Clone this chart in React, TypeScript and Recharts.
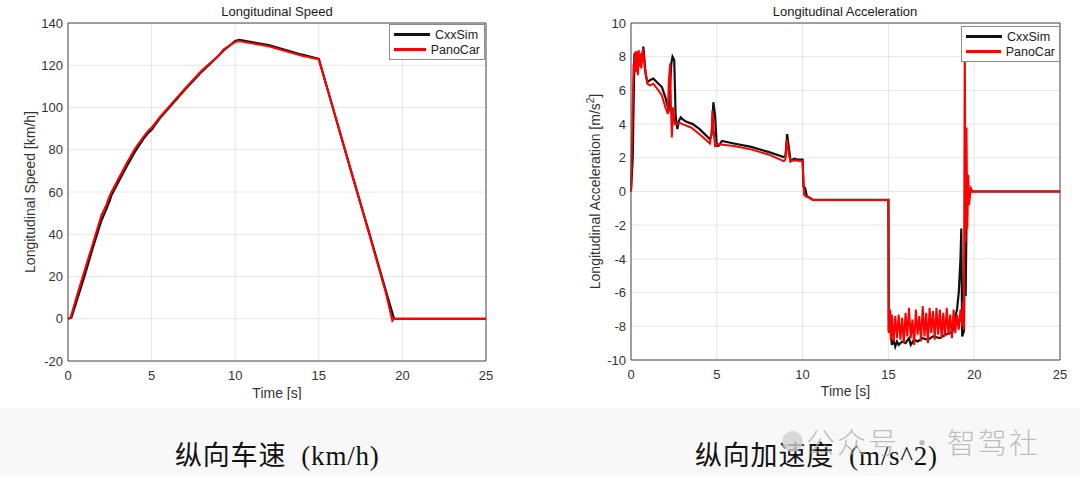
import React from 'react'
import {
  LineChart, Line, XAxis, YAxis, CartesianGrid,
  ReferenceLine, Legend,
} from 'recharts'

// time axis shared by both plots
const TIME_TICKS = [0, 5, 10, 15, 20, 25]
const SPEED_TICKS = [-20, 0, 20, 40, 60, 80, 100, 120, 140]
const ACC_TICKS = [-10, -8, -6, -4, -2, 0, 2, 4, 6, 8, 10]

// Longitudinal speed [km/h]
const SPEED_T_CXX = [0, 0.2, 0.5, 1.0, 1.5, 2.0, 2.3, 2.5, 2.6, 3.0, 3.5, 4.0, 4.5, 4.8, 5.0, 5.5, 6.0, 7.0, 8.0, 9.0, 9.3, 10.0, 10.25, 12.0, 14.0, 15.0, 16.0, 17.0, 18.0, 19.0, 19.5, 20.0, 25.0]
const SPEED_CXX = [0, 0.5, 8, 20.5, 34, 46.5, 52, 56, 58.5, 64.5, 72, 79, 85, 88, 89.5, 95, 99.5, 108.5, 117, 124.5, 127, 131.5, 132, 129.5, 125, 123, 95.5, 68, 41, 13.5, 0, 0, 0]
const SPEED_T_PANO = [0, 0.15, 0.5, 1.0, 1.5, 2.0, 2.3, 2.45, 2.6, 3.0, 3.5, 4.0, 4.5, 4.8, 5.0, 5.5, 6.0, 7.0, 8.0, 9.0, 9.3, 10.0, 10.2, 12.0, 14.0, 15.0, 16.0, 17.0, 18.0, 19.0, 19.4, 19.5, 20.0, 25.0]
const SPEED_PANO = [0, 0.5, 10, 23, 36, 49, 54, 57.5, 60, 66, 73.5, 80.5, 86, 89, 90.5, 95.5, 100, 109, 117.5, 124.5, 127.5, 131, 131.5, 129, 124.5, 122.8, 95.5, 68, 40.5, 12.5, -1, 0, 0, 0]

// Longitudinal acceleration [m/s^2]
const ACC_T_CXX = [
  0, 0.1, 0.2, 0.25, 0.3, 0.4, 0.5, 0.6, 0.72, 0.85, 0.95, 1.1, 1.3, 1.5, 1.8, 2.0, 2.15, 2.2, 2.35, 2.42, 2.52, 2.6, 2.7, 2.8, 2.9,
  3.0, 3.2, 3.6, 4.0, 4.6, 4.7, 4.8, 4.9, 5.0, 5.1, 5.3, 6.0, 7.0, 8.0, 8.9, 9.0, 9.1, 9.2, 9.3, 9.5, 9.7, 10.0, 10.05, 10.15,
  10.25, 10.4, 10.6, 15.0, 15.02, 15.1, 15.2, 15.3, 15.4, 15.5, 15.6, 15.8, 16.0, 16.2, 16.3, 16.5, 16.7, 17.0, 17.3, 17.6,
  18.0, 18.3, 18.6, 18.8, 18.9, 19.0, 19.1, 19.2, 19.25, 19.3, 19.4, 19.45, 19.5, 19.55, 19.6, 19.65, 19.7, 19.8, 25.0,
]
const ACC_CXX = [
  0, 2, 8.2, 7.8, 8.3, 7.4, 8.1, 7.6, 8.6, 7.0, 6.5, 6.6, 6.7, 6.5, 6.2, 5.6, 5.0, 4.9, 7.6, 8.0, 7.8, 4.5, 3.7, 4.2, 4.4,
  4.3, 4.15, 4.0, 3.7, 3.1, 3.4, 5.3, 4.5, 2.7, 2.7, 3.0, 2.85, 2.65, 2.35, 2.05, 2.1, 3.4, 2.6, 1.8, 1.95, 1.9, 1.9, 0.3, 0.2,
  -0.3, -0.35, -0.5, -0.5, -8.3, -8.0, -9.1, -8.8, -9.2, -8.9, -9.1, -8.9, -9.0, -8.7, -9.1, -8.8, -8.9, -8.7, -8.8, -8.6,
  -8.7, -8.5, -8.4, -8.2, -7.4, -7.0, -6.0, -4.0, -2.2, -8.6, -8.3, -4.0, -6.2, -2.0, 0.8, -0.2, 0.1, 0, 0,
]
const ACC_T_PANO = [
  0, 0.15, 0.2, 0.25, 0.3, 0.35, 0.4, 0.45, 0.5, 0.55, 0.6, 0.7, 0.8, 0.95, 1.1, 1.3, 1.6, 1.8, 2.0, 2.15, 2.2, 2.28, 2.33, 2.38,
  2.45, 2.55, 2.7, 2.8, 3.0, 3.5, 4.0, 4.6, 4.7, 4.75, 4.85, 4.9, 5.1, 6.0, 7.0, 8.0, 8.9, 9.0, 9.08, 9.2, 9.3, 9.5, 10.0, 10.08,
  10.2, 10.35, 10.6, 15.0, 15.02, 15.1, 15.15, 15.2, 15.3, 15.4, 15.5, 15.6, 15.7, 15.8, 15.9, 16.0, 16.1, 16.2, 16.3, 16.4,
  16.5, 16.6, 16.7, 16.8, 16.9, 17.0, 17.1, 17.2, 17.3, 17.4, 17.5, 17.6, 17.7, 17.8, 17.9, 18.0, 18.1, 18.2, 18.3, 18.4, 18.5,
  18.6, 18.7, 18.8, 18.9, 19.0, 19.1, 19.2, 19.3, 19.35, 19.4, 19.45, 19.5, 19.55, 19.6, 19.65, 19.7, 19.8, 19.9, 25.0,
]
const ACC_PANO = [
  0, 7.6, 7.0, 8.3, 7.1, 8.3, 6.9, 8.4, 7.4, 8.2, 7.3, 8.5, 7.4, 6.4, 6.3, 6.4, 6.0, 5.7, 5.0, 4.6, 6.5, 7.6, 5.0, 3.2,
  5.0, 4.0, 4.0, 4.1, 4.0, 3.8, 3.4, 2.85, 3.5, 4.8, 3.2, 2.7, 2.8, 2.7, 2.5, 2.2, 1.8, 1.9, 3.1, 2.2, 1.8, 1.85, 1.8, -0.2,
  -0.3, -0.35, -0.5, -0.5, -8.4, -7.0, -8.8, -7.3, -8.9, -7.4, -8.7, -7.3, -8.8, -7.5, -9.0, -7.2, -8.6, -6.9, -8.7, -7.6,
  -9.1, -7.0, -8.5, -7.4, -8.9, -6.8, -8.6, -7.2, -9.0, -6.9, -8.4, -7.1, -8.8, -6.9, -8.5, -7.0, -8.7, -7.2, -8.6, -6.9, -8.5,
  -7.3, -8.7, -7.0, -8.4, -7.3, -8.2, -7.0, -8.0, -6.5, -8.2, 9.5, -3.0, 3.8, -2.2, 1.0, -0.8, 0.2, 0, 0,
]

const toPoints = (ts: number[], vs: number[]) => ts.map((t, i) => ({ t, v: vs[i] }))

const FONT = 'Arial, "Liberation Sans", Helvetica, sans-serif'
const AXIS_COLOR = '#4a4a4a'
const TEXT_COLOR = '#333333'
const GRID_COLOR = '#e6e6e6'
const LABEL_SIZE = 14

function LegendBox({ payload }: any) {
  return (
    <div style={{
      border: '1px solid #8c8c8c', background: '#fff', padding: '2px 4px',
      fontFamily: FONT, fontSize: 12.5, color: '#222', boxSizing: 'border-box',
    }}>
      {(payload || []).map((p: any) => (
        <div key={p.value} style={{ display: 'flex', alignItems: 'center', height: 15 }}>
          <div style={{ width: 36, height: 2.5, background: p.color, marginRight: 5 }} />
          <span>{p.value}</span>
        </div>
      ))}
    </div>
  )
}

function yTitle(cx: number, content: React.ReactNode) {
  return ({ viewBox }: any) => {
    const cy = viewBox.y + viewBox.height / 2
    return (
      <text x={cx} y={cy} transform={`rotate(-90 ${cx} ${cy})`} textAnchor="middle"
        dominantBaseline="central" fontSize={LABEL_SIZE} fill={TEXT_COLOR} fontFamily={FONT}>
        {content}
      </text>
    )
  }
}

const tickStyle = { fontSize: 13, fill: TEXT_COLOR, fontFamily: FONT }

function SpeedChart() {
  return (
    <LineChart width={540} height={400} margin={{ top: 23, right: 54, bottom: 0, left: 0 }}
      style={{ fontFamily: FONT }}>
      <CartesianGrid stroke={GRID_COLOR} />
      <XAxis dataKey="t" type="number" domain={[0, 25]} ticks={TIME_TICKS} height={39}
        tick={tickStyle} tickLine={false} tickSize={6} tickMargin={4} stroke={AXIS_COLOR}
        label={{ value: 'Time [s]', position: 'insideBottom', offset: 2, fontSize: LABEL_SIZE, fill: TEXT_COLOR }} />
      <YAxis type="number" domain={[-20, 140]} ticks={SPEED_TICKS} width={68}
        tick={tickStyle} tickLine={false} tickSize={5} tickMargin={0} stroke={AXIS_COLOR}
        label={{ content: yTitle(30, 'Longitudinal Speed [km/h]') }} />
      <ReferenceLine y={140} stroke={AXIS_COLOR} />
      <ReferenceLine x={25} stroke={AXIS_COLOR} />
      <Line data={toPoints(SPEED_T_CXX, SPEED_CXX)} dataKey="v" name="CxxSim" type="linear"
        stroke="#111111" strokeWidth={2.2} dot={false} isAnimationActive={false} />
      <Line data={toPoints(SPEED_T_PANO, SPEED_PANO)} dataKey="v" name="PanoCar" type="linear"
        stroke="#ff0000" strokeWidth={2} dot={false} isAnimationActive={false} />
      <Legend content={LegendBox} layout="horizontal" verticalAlign="middle" align="center"
        wrapperStyle={{ left: 389, top: 24, width: 96 }} />
    </LineChart>
  )
}

function AccelChart() {
  return (
    <LineChart width={520} height={400} margin={{ top: 23, right: 20, bottom: 0, left: 0 }}
      style={{ fontFamily: FONT }}>
      <CartesianGrid stroke={GRID_COLOR} />
      <XAxis dataKey="t" type="number" domain={[0, 25]} ticks={TIME_TICKS} height={40}
        tick={tickStyle} tickLine={false} tickSize={6} tickMargin={4} stroke={AXIS_COLOR}
        label={{ value: 'Time [s]', position: 'insideBottom', offset: 4, fontSize: LABEL_SIZE, fill: TEXT_COLOR }} />
      <YAxis type="number" domain={[-10, 10]} ticks={ACC_TICKS} width={71}
        tick={tickStyle} tickLine={false} tickSize={5} tickMargin={0} stroke={AXIS_COLOR}
        label={{
          content: yTitle(35, (
            <>
              <tspan>Longitudinal Acceleration [m/s</tspan>
              <tspan dy={-5} fontSize={10}>2</tspan>
              <tspan dy={5}>]</tspan>
            </>
          )),
        }} />
      <ReferenceLine y={10} stroke={AXIS_COLOR} />
      <ReferenceLine x={25} stroke={AXIS_COLOR} />
      <Line data={toPoints(ACC_T_CXX, ACC_CXX)} dataKey="v" name="CxxSim" type="linear"
        stroke="#111111" strokeWidth={2.2} dot={false} isAnimationActive={false} />
      <Line data={toPoints(ACC_T_PANO, ACC_PANO)} dataKey="v" name="PanoCar" type="linear"
        stroke="#ff0000" strokeWidth={2} dot={false} isAnimationActive={false} />
      <Legend content={LegendBox} layout="horizontal" verticalAlign="middle" align="center"
        wrapperStyle={{ left: 401, top: 26, width: 99 }} />
    </LineChart>
  )
}

const titleStyle: React.CSSProperties = {
  position: 'absolute', top: 4, height: 16, lineHeight: '16px', textAlign: 'center',
  fontFamily: FONT, fontSize: 13, color: '#1a1a1a', whiteSpace: 'nowrap',
}

const captionStyle: React.CSSProperties = {
  position: 'absolute', top: 438, height: 36, lineHeight: '36px', whiteSpace: 'pre',
  fontFamily: '"Liberation Serif", "Noto Sans CJK SC", serif', fontSize: 27, color: '#111',
}

export default function App() {
  return (
    <div style={{ position: 'absolute', left: 0, top: 0, width: 1080, height: 491, background: '#fff', overflow: 'hidden' }}>
      <div style={{ position: 'absolute', left: 0, top: 408, width: 1080, height: 68, background: '#f8f8f8' }} />
      <div style={{ position: 'absolute', left: 0, top: 0 }}><SpeedChart /></div>
      <div style={{ position: 'absolute', left: 560, top: 0 }}><AccelChart /></div>
      <div style={{ ...titleStyle, left: 177, width: 200 }}>Longitudinal Speed</div>
      <div style={{ ...titleStyle, left: 745, width: 200 }}>Longitudinal Acceleration</div>
      <div style={{ ...captionStyle, left: 175, letterSpacing: 0.8 }}>纵向车速  (km/h)</div>
      <div style={{ ...captionStyle, left: 695, letterSpacing: 0.8 }}>纵向加速度  (m/s^2)</div>
      {/* watermark */}
      <div style={{ position: 'absolute', left: 782, top: 431, width: 21, height: 21, borderRadius: '50%', background: '#cfcfcf', opacity: 0.8 }} />
      <div style={{
        position: 'absolute', left: 806, top: 422, height: 38, lineHeight: '38px', whiteSpace: 'pre',
        fontFamily: '"Noto Sans CJK SC", sans-serif', fontSize: 29, fontWeight: 300, letterSpacing: 2,
        color: 'rgba(170,170,170,0.75)',
      }}>
        公众号 · 智驾社
      </div>
    </div>
  )
}
